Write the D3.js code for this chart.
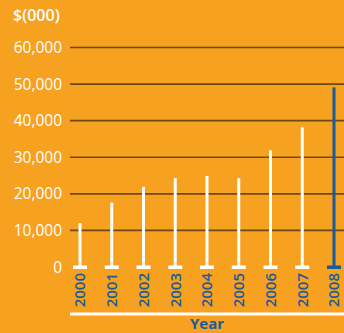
<!DOCTYPE html>
<html>
<head>
<meta charset="utf-8">
<script src="https://cdn.jsdelivr.net/npm/d3@7"></script>
<style>
  body { margin: 0; background: #f6a11f; }
  svg { display: block; }
</style>
</head>
<body>
<div id="chart"></div>
<script>
const width = 344, height = 333
const margin = {top: 47, right: 0, bottom: 66, left: 70}

const years = ["2000", "2001", "2002", "2003", "2004", "2005", "2006", "2007", "2008"]
const values = [12000, 17600, 21900, 24300, 24900, 24300, 31900, 38200, 49100]
const yTicks = [0, 10000, 20000, 30000, 40000, 50000, 60000]

const orange = "#f6a11f"
const blue = "#1b5b9c"

const svg = d3.select("#chart").append("svg")
  .attr("width", width)
  .attr("height", height)
  .style("font-family", "'Open Sans', sans-serif")

svg.append("rect").attr("width", width).attr("height", height).attr("fill", orange)

let x = d3.scalePoint()
  .domain(years)
  .range([80, 334])

let y = d3.scaleLinear()
  .domain([0, 60000])
  .range([267, 47.5])

// gridlines
svg.append("g")
  .selectAll("line")
  .data(yTicks.filter(d => d > 0))
  .join("line")
  .attr("x1", margin.left)
  .attr("x2", width)
  .attr("y1", d => y(d))
  .attr("y2", d => y(d))
  .attr("stroke", "#6e4a12")
  .attr("stroke-width", 1.6)

// y axis labels
svg.append("g")
  .selectAll("text")
  .data(yTicks)
  .join("text")
  .attr("x", 62)
  .attr("y", d => y(d))
  .attr("dy", "0.36em")
  .attr("text-anchor", "end")
  .attr("fill", "#fff")
  .attr("font-size", 15.5)
  .text(d => d3.format(",")(d))

svg.append("text")
  .attr("x", 13)
  .attr("y", 21)
  .attr("fill", "#fff")
  .attr("font-size", 16)
  .attr("font-weight", 600)
  .text("$(000)")

// bars (thin stems with base caps)
const bars = svg.append("g")
  .selectAll("g")
  .data(years.map((yr, i) => ({year: yr, value: values[i]})))
  .join("g")

bars.append("line")
  .attr("x1", d => x(d.year))
  .attr("x2", d => x(d.year))
  .attr("y1", y(0))
  .attr("y2", d => y(d.value))
  .attr("stroke", d => d.year == "2008" ? blue : "#fff")
  .attr("stroke-width", 3)

bars.append("rect")
  .attr("x", d => x(d.year) - 7)
  .attr("y", y(0) - 1.5)
  .attr("width", 14)
  .attr("height", 3.5)
  .attr("fill", d => d.year == "2008" ? blue : "#fff")

// x labels rotated
bars.append("text")
  .attr("transform", d => `translate(${x(d.year)},273) rotate(-90)`)
  .attr("text-anchor", "end")
  .attr("dy", "0.36em")
  .attr("fill", blue)
  .attr("font-size", 15)
  .attr("font-weight", 600)
  .text(d => d.year)

// bottom axis line
svg.append("line")
  .attr("x1", margin.left)
  .attr("x2", width)
  .attr("y1", 314)
  .attr("y2", 314)
  .attr("stroke", "#fff")
  .attr("stroke-width", 3)

svg.append("text")
  .attr("x", 207)
  .attr("y", 329)
  .attr("text-anchor", "middle")
  .attr("fill", blue)
  .attr("font-size", 15)
  .attr("font-weight", "bold")
  .text("Year")
</script>
</body>
</html>
